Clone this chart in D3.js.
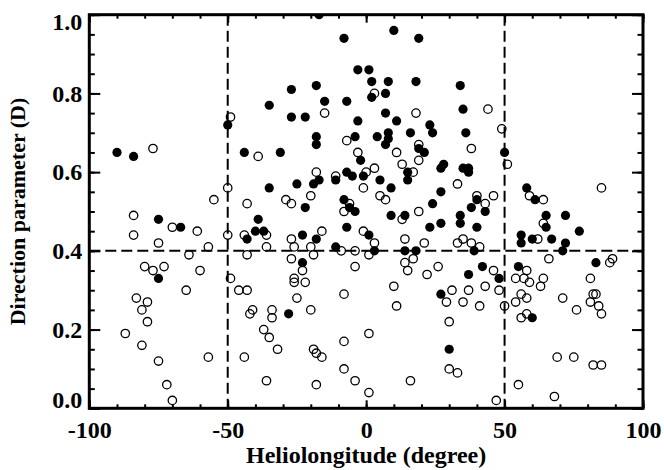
<!DOCTYPE html>
<html>
<head>
<meta charset="utf-8" />
<title>Direction parameter</title>
<script src="https://cdn.jsdelivr.net/npm/d3@7/dist/d3.min.js"></script>
<style type="text/css">
body {
  margin: 0;
  background-color: #fff;
}
text {
  font-family: "Liberation Serif", "Times New Roman", serif;
  font-weight: bold;
  fill: #000;
}
</style>
</head>
<body>

<svg width="664" height="470" version="1.1" xmlns="http://www.w3.org/2000/svg"></svg>

<script type="text/javascript">

// filled circles
var v_FilledLon = [-90, -84, -50, -44, -31, -35, -27, -27, -22, -18, -15, -8, -17, -18, -18, -7, -3, -3, -4, -2,
                   -17, -19, -25, -35, -11, -7, -5, -1, -22, -8, -6, -4,
                   10, 19, 1, 2, 8, 18, 2, 7, 34, 7, 11, 35, 23, 24, 16, 8, 8, 4, 7, 36, 19, 21, 50,
                   15, 15, 5, 9, 27, 28, 35, 37, 37, 27, 24, 40, 38, 43, 58, 61,
                   -75, -67, -43, -39, -40, -37, -75, -28, -23, -18, -23, -11, -7,
                   9, 14, 34, 34, 23, 27, 40, 1, 3, 14, 18, 39, 42, 37, 48, 27, 30, 55, 60, 83,
                   56, 56, 60, 67, 72, 71, 77, 65, 65, 72];
var v_FilledD   = [0.65, 0.64, 0.72, 0.65, 0.65, 0.77, 0.81, 0.74, 0.74, 0.82, 0.78, 0.94, 1.00, 0.69, 0.67, 0.78, 0.73, 0.86, 0.69, 0.63,
                   0.58, 0.57, 0.57, 0.56, 0.58, 0.60, 0.59, 0.59, 0.51, 0.53, 0.51, 0.50,
                   0.96, 0.94, 0.86, 0.83, 0.83, 0.83, 0.79, 0.80, 0.82, 0.75, 0.73, 0.76, 0.72, 0.70, 0.70, 0.70, 0.685, 0.69, 0.67, 0.70, 0.66, 0.65, 0.65,
                   0.60, 0.58, 0.58, 0.56, 0.61, 0.62, 0.61, 0.61, 0.60, 0.55, 0.52, 0.53, 0.51, 0.50, 0.56, 0.53,
                   0.48, 0.46, 0.43, 0.48, 0.45, 0.45, 0.33, 0.24, 0.44, 0.43, 0.37, 0.41, 0.46,
                   0.49, 0.49, 0.49, 0.47, 0.46, 0.47, 0.46, 0.44, 0.40, 0.40, 0.40, 0.40, 0.36, 0.34, 0.33, 0.29, 0.15, 0.36, 0.23, 0.37,
                   0.44, 0.42, 0.43, 0.43, 0.42, 0.40, 0.45, 0.46, 0.49, 0.49];

// open circles
var v_OpenLon = [-77, -49, -39, -15, -7, -3, -18, -11, 0, -1, -20, -29, -27, -43, -55, -50, -6, -8,
                 3, 18, 44, 49, 19, 11, 19, 51, 38, 13, 3, 17, 33, 5, 7, 40, 43, 46, 19, 59, 64, 85,
                 -84, -70, -61, -84, -75, -57, -50, -44, -36, -36, -43, -64, -80, -77, -73, -60, -49, -46, -43, -65,
                 -83, -79, -81, -79, -87, -81, -75, -72, -70, -57, -44, -36, -18, -41, -42, -34, -34, -20, -37, -35,
                 -32, -19, -18, -16, -8, -8, -8, -4, -27, -26, -16, -20, -19, -27, -23, -26, -26, -22, -25, -9, -4, -4, -1,
                 13, 3, 1, 14, 17, 14, 15, 21, 33, 35, 38, 41, 46, 26, 22, 10, 11, 31, 37, 43, 48, 29, 35, 41, 50,
                 30, 30, 33, 16, 1, 1, 47, 54, 58, 57, 59, 64, 63, 66, 56, 58, 54, 58, 56, 71, 76, 81, 82, 83, 81,
                 84, 85, 88, 89, 69, 75, 82, 85, 55, 68, 62, 64];
var v_OpenD   = [0.66, 0.74, 0.64, 0.75, 0.68, 0.65, 0.60, 0.59, 0.60, 0.56, 0.54, 0.53, 0.52, 0.52, 0.53, 0.56, 0.52, 0.50,
                 0.80, 0.75, 0.76, 0.71, 0.67, 0.65, 0.63, 0.62, 0.66, 0.62, 0.61, 0.60, 0.57, 0.54, 0.53, 0.54, 0.52, 0.54, 0.50, 0.54, 0.53, 0.56,
                 0.49, 0.46, 0.45, 0.44, 0.42, 0.41, 0.44, 0.44, 0.44, 0.41, 0.39, 0.39, 0.36, 0.35, 0.36, 0.35, 0.33, 0.30, 0.30, 0.30,
                 0.28, 0.27, 0.25, 0.22, 0.19, 0.16, 0.12, 0.06, 0.02, 0.13, 0.13, 0.07, 0.06, 0.25, 0.24, 0.25, 0.23, 0.25, 0.20, 0.18,
                 0.15, 0.15, 0.14, 0.13, 0.29, 0.17, 0.10, 0.07, 0.43, 0.41, 0.45, 0.41, 0.39, 0.38, 0.35, 0.33, 0.32, 0.32, 0.28, 0.40, 0.40, 0.36, 0.45,
                 0.48, 0.42, 0.39, 0.43, 0.38, 0.37, 0.35, 0.42, 0.42, 0.43, 0.42, 0.41, 0.35, 0.36, 0.34, 0.31, 0.26, 0.30, 0.30, 0.31, 0.30, 0.27, 0.27, 0.26, 0.26,
                 0.22, 0.10, 0.09, 0.07, 0.04, 0.19, 0.02, 0.33, 0.35, 0.33, 0.32, 0.33, 0.31, 0.38, 0.29, 0.28, 0.27, 0.24, 0.23, 0.28, 0.25, 0.33, 0.29, 0.29, 0.27,
                 0.26, 0.24, 0.37, 0.38, 0.13, 0.13, 0.11, 0.11, 0.06, 0.03, 0.43, 0.47];

var v_XTicks  = [-100, -50, 0, 50, 100];
var v_YTicks  = [0.0, 0.2, 0.4, 0.6, 0.8, 1.0];
var v_Guides  = {lon: [-50, 50], d: [0.4]};
var v_XTitle  = "Heliolongitude (degree)";
var v_YTitle  = "Direction parameter (D)";

var m = {left: 89.3, right: 643, top: 14.7, bottom: 408.3};

var v_X = d3.scaleLinear().domain([-100, 100]).range([m.left, m.right]);
var v_Y = d3.scaleLinear().domain([0, 1]).range([m.bottom, m.top]);

var v_SVG = d3.select("svg");

v_SVG.append("rect")
.attr("width" ,664)
.attr("height" ,470)
.attr("fill" ,"#fff");

v_SVG.append("defs").append("clipPath")
.attr("id" ,"plotClip")
.append("rect")
.attr("x" ,m.left)
.attr("y" ,m.top)
.attr("width" ,m.right - m.left)
.attr("height" ,m.bottom - m.top);

var v_Plot = v_SVG.append("g").attr("clip-path" ,"url(#plotClip)");

// dashed guides
v_Plot.selectAll("line.vguide").data(v_Guides.lon).enter().append("line")
.attr("class" ,"vguide")
.attr("x1" ,function(d) { return v_X(d); })
.attr("x2" ,function(d) { return v_X(d); })
.attr("y1" ,m.top)
.attr("y2" ,m.bottom)
.attr("stroke" ,"#000")
.attr("stroke-width" ,2)
.attr("stroke-dasharray" ,"11,5");

v_Plot.selectAll("line.hguide").data(v_Guides.d).enter().append("line")
.attr("class" ,"hguide")
.attr("x1" ,m.left)
.attr("x2" ,m.right)
.attr("y1" ,function(d) { return v_Y(d); })
.attr("y2" ,function(d) { return v_Y(d); })
.attr("stroke" ,"#000")
.attr("stroke-width" ,2)
.attr("stroke-dasharray" ,"11,5");

v_Plot.selectAll("circle.filled").data(d3.range(v_FilledLon.length)).enter().append("circle")
.attr("class" ,"filled")
.attr("cx" ,function(i) { return v_X(v_FilledLon[i]); })
.attr("cy" ,function(i) { return v_Y(v_FilledD[i]); })
.attr("r" ,4.6)
.attr("fill" ,"#000");

v_Plot.selectAll("circle.open").data(d3.range(v_OpenLon.length)).enter().append("circle")
.attr("class" ,"open")
.attr("cx" ,function(i) { return v_X(v_OpenLon[i]); })
.attr("cy" ,function(i) { return v_Y(v_OpenD[i]); })
.attr("r" ,4.2)
.attr("fill" ,"none")
.attr("stroke" ,"#000")
.attr("stroke-width" ,1.3);

// axes, ticks point inward
function styleAxis(g)
{
	g.select(".domain").remove();
	g.selectAll(".tick line").attr("stroke" ,"#000").attr("stroke-width" ,2);
	g.selectAll("text").attr("font-size" ,24).attr("fill" ,"#000")
	.style("font-family" ,"'Liberation Serif', serif").style("font-weight" ,"bold");
}

var v_Bottom = v_SVG.append("g").attr("transform" ,"translate(0," + m.bottom + ")");
v_Bottom.call(d3.axisBottom(v_X).ticks(20).tickSize(-4).tickFormat("")).call(styleAxis);
v_Bottom.append("g").call(d3.axisBottom(v_X).tickValues(v_XTicks).tickSize(-8).tickSizeOuter(0).tickPadding(13)
.tickFormat(function(d) { return String(d); })).call(styleAxis);

var v_Top = v_SVG.append("g").attr("transform" ,"translate(0," + m.top + ")");
v_Top.call(d3.axisTop(v_X).ticks(20).tickSize(-4).tickFormat("")).call(styleAxis);
v_Top.append("g").call(d3.axisTop(v_X).tickValues(v_XTicks).tickSize(-8).tickFormat("")).call(styleAxis);

var v_Left = v_SVG.append("g").attr("transform" ,"translate(" + m.left + ",0)");
v_Left.call(d3.axisLeft(v_Y).ticks(20).tickSize(-5.5).tickFormat("")).call(styleAxis);
v_Left.append("g").call(d3.axisLeft(v_Y).tickValues(v_YTicks).tickSize(-11).tickPadding(7)
.tickFormat(d3.format(".1f"))).call(styleAxis);

// IDL keeps the end labels inside the axis range
v_Left.selectAll(".tick text")
.attr("y" ,function(d)
{
	if ( d >= 1 ) { return 7.5; }
	if ( d <= 0 ) { return -8; }
	return 0;
});

var v_Right = v_SVG.append("g").attr("transform" ,"translate(" + m.right + ",0)");
v_Right.call(d3.axisRight(v_Y).ticks(20).tickSize(-5.5).tickFormat("")).call(styleAxis);
v_Right.append("g").call(d3.axisRight(v_Y).tickValues(v_YTicks).tickSize(-11).tickFormat("")).call(styleAxis);

// frame
v_SVG.append("rect")
.attr("x" ,m.left)
.attr("y" ,m.top)
.attr("width" ,m.right - m.left)
.attr("height" ,m.bottom - m.top)
.attr("fill" ,"none")
.attr("stroke" ,"#000")
.attr("stroke-width" ,3);

v_SVG.append("text")
.attr("x" ,(m.left + m.right) / 2)
.attr("y" ,463)
.attr("text-anchor" ,"middle")
.attr("font-size" ,24)
.text(v_XTitle);

v_SVG.append("text")
.attr("transform" ,"translate(25," + ((m.top + m.bottom) / 2) + ") rotate(-90)")
.attr("text-anchor" ,"middle")
.attr("font-size" ,22)
.text(v_YTitle);

</script>

</body>
</html>
